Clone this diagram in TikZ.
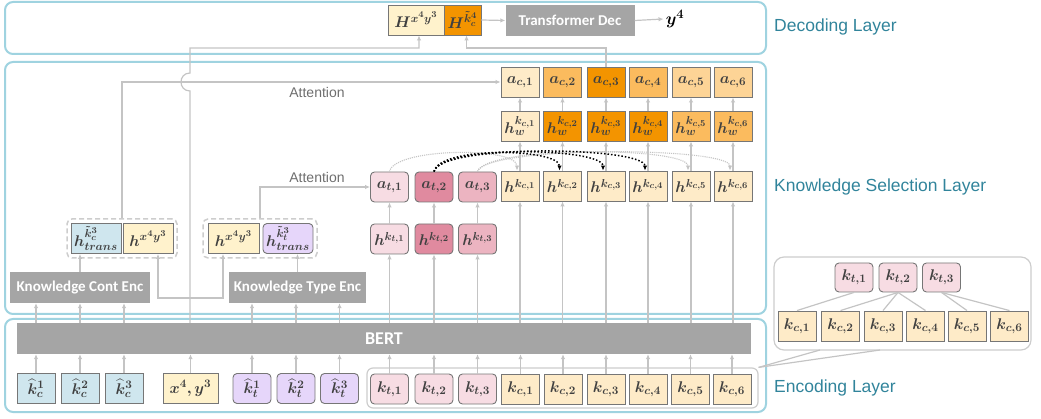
\RequirePackage{fix-cm}
\documentclass[tikz,border=0pt]{standalone}
\usepackage{amsmath,bm}
\usepackage{fontspec}
\newfontfamily\arialf{Liberation Sans}
\newfontfamily\calib{Carlito}
\usetikzlibrary{arrows.meta,calc}
\DeclareMathSizes{15.5}{15.5}{11.5}{9}
\DeclareMathSizes{17}{17}{13}{10}
\definecolor{layerblue}{HTML}{9FD3E0}
\definecolor{teallbl}{HTML}{31849B}
\definecolor{lgray}{HTML}{C4C4C4}
\definecolor{dgray}{HTML}{CDCDCD}
\definecolor{bargray}{HTML}{A5A5A5}
\definecolor{bordgray}{HTML}{767676}
\definecolor{txtgray}{HTML}{404040}
\definecolor{attgray}{HTML}{6E6E6E}
\definecolor{creamk}{HTML}{FEEBC8}
\definecolor{creamy}{HTML}{FFF2CC}
\definecolor{orng}{HTML}{F39400}
\definecolor{medor}{HTML}{FBBB5E}
\definecolor{lightor}{HTML}{FDD496}
\definecolor{bluel}{HTML}{CFE6EE}
\definecolor{purpl}{HTML}{E6D6FA}
\definecolor{pinkl}{HTML}{F7DCE3}
\definecolor{pinkd}{HTML}{E08A9F}
\definecolor{pinkm}{HTML}{ECB4C1}
\newcommand\boxfnt{\fontsize{15.5}{17}\selectfont}
\begin{document}
\begin{tikzpicture}[x=1pt,y=-1pt,
 >={Latex[length=5pt,width=4.5pt]},
 box/.style={draw=bordgray, line width=0.9pt, minimum width=38pt, minimum height=30pt, inner sep=0pt, text=txtgray, font=\boxfnt},
 rbox/.style={box, rounded corners=4pt},
 bar/.style={fill=bargray, inner sep=0pt, text=white, font=\calib\bfseries\fontsize{15}{18}\selectfont},
 conn/.style={draw=lgray, line width=1.2pt, ->},
 layerbox/.style={draw=layerblue, line width=2pt, rounded corners=8pt},
 grp/.style={draw=dgray, dashed, dash pattern=on 5pt off 3pt, line width=1.5pt, rounded corners=5pt, inner sep=0pt},
 lbl/.style={text=teallbl, font=\arialf\fontsize{17.5}{20}\selectfont, anchor=west, inner sep=0pt},
 att/.style={text=attgray, font=\arialf\fontsize{14}{16}\selectfont, inner sep=0pt},
 treeline/.style={draw=lgray, line width=1.2pt},
 gdot/.style={draw=lgray, densely dotted, line width=1.1pt, ->},
 bdot/.style={draw=black, dotted, line width=1.5pt, ->},
 outline/.style={draw=dgray, line width=1.2pt, inner sep=0pt}
]
\useasboundingbox (0,0) rectangle (1041,419);

% layers
\draw[layerbox] (5,2) rectangle (766,54);
\draw[layerbox] (5,62) rectangle (766,314);
\draw[layerbox] (5,319) rectangle (766,412);
\node[lbl] (ldec) at (774,27) {Decoding Layer};
\node[lbl] (lks) at (774,187) {Knowledge Selection Layer};
\node[lbl] (lenc) at (774,388) {Encoding Layer};

% decoding layer
\node[box, fill=creamy, minimum width=56pt] (Hx) at (416,20) {$\bm{H^{x^4y^3}}$};
\node[box, fill=orng, minimum width=37pt] (Hk) at (462.5,20) {$\bm{H^{\tilde{k}_c^4}}$};
\node[bar, minimum width=129pt, minimum height=31pt] (tdec) at (570,20.5) {Transformer Dec};
\node[inner sep=2pt, font=\fontsize{17}{19}\selectfont] (y4) at (675,19) {$\bm{y^4}$};
\draw[conn] (Hk.east) -- (tdec.west);
\draw[conn] (tdec.east) -- (y4.west);

% knowledge content columns
\foreach \i/\x/\ca/\cw in {1/520/creamk/creamk, 2/562.5/medor/orng, 3/606/orng/orng, 4/648/medor/orng, 5/691/lightor/medor, 6/733/lightor/medor} {
 \node[box, fill=\ca] (ac\i) at (\x,82) {$\bm{a_{c,\i}}$};
 \node[box, fill=\cw] (hw\i) at (\x,126) {$\bm{h_w^{k_{c,\i}}}$};
 \node[box, fill=creamk] (hkc\i) at (\x,186) {$\bm{h^{k_{c,\i}}}$};
}
% knowledge type columns
\foreach \i/\x/\c in {1/389.5/pinkl, 2/434/pinkd, 3/477.5/pinkm} {
 \node[rbox, fill=\c] (at\i) at (\x,187) {$\bm{a_{t,\i}}$};
 \node[rbox, fill=\c] (hkt\i) at (\x,239) {$\bm{h^{k_{t,\i}}}$};
}

% groups
\node[grp, minimum width=110pt, minimum height=39pt] (gL) at (122,238.5) {};
\node[box, fill=bluel, minimum width=50pt] (htl) at (96,238.5) {$\bm{h^{\tilde{k}_c^3}_{trans}}$};
\node[box, fill=creamy, minimum width=50pt] (hxl) at (148,238.5) {$\bm{h^{x^4y^3}}$};
\node[grp, minimum width=114pt, minimum height=39pt] (gR) at (260,238.5) {};
\node[box, fill=creamy, minimum width=51pt] (hxr) at (233.5,238.5) {$\bm{h^{x^4y^3}}$};
\node[rbox, fill=purpl, minimum width=50pt] (htr) at (288,238.5) {$\bm{h^{\tilde{k}_t^3}_{trans}}$};

% encoders
\node[bar, minimum width=140pt, minimum height=31pt] (kce) at (80,287.5) {Knowledge Cont Enc};
\node[bar, minimum width=137pt, minimum height=31pt] (kte) at (297.5,287.5) {Knowledge Type Enc};
\node[bar, minimum width=734pt, minimum height=31pt, font=\calib\bfseries\fontsize{18}{20}\selectfont] (bert) at (384,338.5) {BERT};

% encoding inputs
\node[outline, rounded corners=6pt, minimum width=391pt, minimum height=40pt] (kgrp) at (562.5,388) {};
\foreach \i/\x in {1/36, 2/80, 3/124} {
 \node[box, fill=bluel] (khc\i) at (\x,388.5) {$\bm{\widehat{k}_c^{\i}}$};
}
\node[box, fill=creamy, minimum width=55pt] (xy) at (190.5,388.5) {$\bm{x^4,y^3}$};
\foreach \i/\x in {1/252, 2/296, 3/339.5} {
 \node[rbox, fill=purpl] (kht\i) at (\x,388.5) {$\bm{\widehat{k}_t^{\i}}$};
}
\foreach \i/\x in {1/389.5, 2/434, 3/477.5} {
 \node[rbox, fill=pinkl] (kt\i) at (\x,389) {$\bm{k_{t,\i}}$};
}
\foreach \i/\x in {1/520.5, 2/563, 3/606, 4/648, 5/690.5, 6/732} {
 \node[box, fill=creamk] (kc\i) at (\x,389) {$\bm{k_{c,\i}}$};
}

% tree on the right
\node[outline, rounded corners=10pt, minimum width=257pt, minimum height=93pt] (tbox) at (902.5,303.5) {};
\foreach \i/\x in {1/854, 2/898, 3/941.5} {
 \node[rbox, fill=pinkl, minimum height=29pt] (tkt\i) at (\x,277.5) {$\bm{k_{t,\i}}$};
}
\foreach \i/\x in {1/797, 2/840.5, 3/883, 4/925.5, 5/967, 6/1009.5} {
 \node[box, fill=creamk] (tkc\i) at (\x,326) {$\bm{k_{c,\i}}$};
}
\draw[treeline] (tkt1.south) -- (tkc1.north);
\draw[treeline] (tkt2.south) -- (tkc2.north);
\draw[treeline] (tkt2.south) -- (tkc3.north);
\draw[treeline] (tkt2.south) -- (tkc4.north);
\draw[treeline] (tkt3.south) -- (tkc5.north);
\draw[treeline] (tkt3.south) -- (tkc6.north);
\coordinate (cz1) at (820,350);
\coordinate (cz2) at (880,350);
\draw[treeline] (cz1) -- (kgrp.north east);
\draw[treeline] (cz2) -- (kgrp.north east);

% input arrows into BERT
\foreach \n in {khc1,khc2,khc3,xy,kht1,kht2,kht3,kt1,kt2,kt3,kc1,kc2,kc3,kc4,kc5,kc6} {
 \draw[conn] (\n.north) -- (\n.north |- bert.south);
}
% BERT to encoders
\foreach \n in {khc1,khc2,khc3} { \draw[conn] (bert.north -| \n) -- (kce.south -| \n); }
\foreach \n in {kht1,kht2,kht3} { \draw[conn] (bert.north -| \n) -- (kte.south -| \n); }
\draw[conn] (kce.north) -- (kce.north |- htl.south);
\draw[conn] (kte.north) -- (kte.north |- htr.south);

% BERT to selection columns
\foreach \i in {1,2,3} {
 \draw[conn] (bert.north -| hkt\i) -- (hkt\i.south);
 \draw[conn] (hkt\i.north) -- (at\i.south);
}
\foreach \i in {1,...,6} {
 \draw[conn] (bert.north -| hkc\i) -- (hkc\i.south);
 \draw[conn] (hkc\i.north) -- (hw\i.south);
 \draw[conn] (hw\i.north) -- (ac\i.south);
}

% context line from BERT
\coordinate (jx) at (190,48);
\coordinate (u1) at (158,298);
\coordinate (u2) at (223,298);
\draw[conn, <->] (hxl.south -| u1) |- (u2) -- (hxr.south -| u2);
\draw[conn] (bert.north -| jx) -- (190,91) .. controls (178,91) and (178,73) .. (190,73) -- (jx) -| ($(Hx.south)+(3,0)$);
\coordinate (ky) at (606,48);
\draw[conn] (ac3.north) -- (ac3.north |- ky) -| ($(Hk.south)+(4,0)$);

% attention
\draw[conn] (gL.north) |- (ac1.west);
\draw[conn] (gR.north) |- (at1.west);
\node[att] (att1) at (317,92) {Attention};
\node[att] (att2) at (317,177) {Attention};

% dotted arcs
\draw[gdot] (at1.north) .. controls +(5,-24) and +(0,-24) .. ($(hkc1.north)+(-3,0)$);
\draw[gdot] (at3.north) .. controls +(8,-26) and +(0,-24) .. ($(hkc5.north)+(-3,0)$);
\draw[gdot] (at3.north) .. controls +(8,-26) and +(0,-24) .. ($(hkc6.north)+(-3,0)$);
\draw[bdot] (at2.north) .. controls +(6,-26) and +(0,-22) .. ($(hkc2.north)+(-3,0)$);
\draw[bdot] (at2.north) .. controls +(6,-27) and +(0,-23) .. ($(hkc3.north)+(-3,0)$);
\draw[bdot] (at2.north) .. controls +(6,-28) and +(0,-24) .. ($(hkc4.north)+(-3,0)$);
\end{tikzpicture}
\end{document}
